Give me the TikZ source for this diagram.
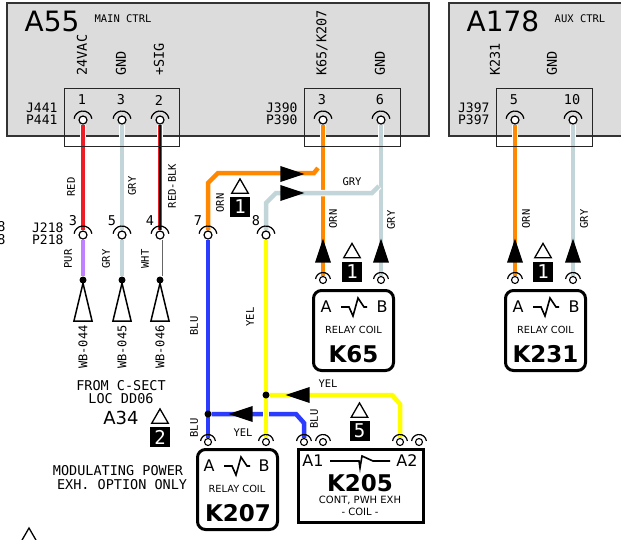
\documentclass[tikz,border=0pt]{standalone}
\usepackage{fontspec}
\usepackage{tikz}
\usetikzlibrary{arrows.meta, positioning, shapes.geometric, backgrounds}
\newfontfamily\monof{DejaVu Sans Mono}
\newfontfamily\sansf{DejaVu Sans}
\newcommand{\fsz}[1]{\fontsize{#1}{#1}\selectfont}

\definecolor{panelgray}{HTML}{DCDCDC}
\definecolor{wirered}{HTML}{EE1C25}
\definecolor{wireorn}{HTML}{FF8800}
\definecolor{wiregry}{HTML}{C2D5D9}
\definecolor{wireblu}{HTML}{2B3CFF}
\definecolor{wireyel}{HTML}{FFFF00}
\definecolor{wirepur}{HTML}{C080FF}

% warning triangle above a numbered black flag
\newcommand{\noteflag}[4]{
  \node[flagbox] (flag#1) at (#2,#3) {#4};
  \node[flagtri, above=3pt of flag#1] (tri#1) {};
}
% coil sign of a relay
\newcommand{\coilsign}[2]{
  \draw[coil] (#1-13,#2) -- (#1-5,#2) -- (#1-1,#2-9) -- (#1+4,#2+9) -- (#1+10,#2) -- (#1+13,#2);
}

\begin{document}
\begin{tikzpicture}[
    x=1pt, y=1pt, >=Latex,
    panel/.style={draw=black!80, line width=1.6pt, fill=panelgray, inner sep=0pt, anchor=north west},
    plug/.style={draw=black!85, line width=1.4pt, inner sep=0pt, anchor=north west},
    term/.style={circle, draw, line width=1.2pt, fill=white, inner sep=0pt, minimum size=8pt},
    termb/.style={circle, draw, line width=1.1pt, fill=white, inner sep=0pt, minimum size=7pt},
    tarc/.style={line width=1.2pt},
    wire/.style={draw=white, double=#1, double distance=4.5pt, line width=1pt},
    dot/.style={circle, fill=black, inner sep=0pt, minimum size=7pt},
    flowhead/.style={isosceles triangle, isosceles triangle apex angle=37, fill=black, inner sep=0pt, minimum height=24pt, anchor=apex},
    lug/.style={isosceles triangle, isosceles triangle apex angle=27, draw, line width=1.5pt, fill=white, inner sep=0pt, minimum height=38pt, anchor=apex, shape border rotate=90},
    flagbox/.style={fill=black, text=white, minimum size=20pt, inner sep=0pt, font=\monof\fsz{19}},
    flagtri/.style={regular polygon, regular polygon sides=3, draw, line width=1.3pt, inner sep=0pt, minimum size=19pt},
    relay/.style={draw, line width=3pt, rounded corners=8pt, fill=white, inner sep=0pt, anchor=north west, minimum width=80pt, minimum height=80pt},
    coil/.style={line width=1.6pt},
    big/.style={font=\sansf\fsz{28}},
    tag/.style={font=\monof\fsz{10.5}},
    sig/.style={font=\monof\fsz{13.5}, rotate=90, anchor=west},
    pnum/.style={font=\monof\fsz{13.5}},
    jack/.style={font=\monof\fsz{13}, align=right, anchor=east},
    wlab/.style={font=\monof\fsz{10.5}},
    wv/.style={wlab, rotate=90},
    lugtxt/.style={font=\monof\fsz{12}, rotate=90},
    note/.style={font=\monof\fsz{13.5}, align=center},
    pole/.style={font=\sansf\fsz{16}},
    coiltxt/.style={font=\sansf\fsz{9.8}},
    devname/.style={font=\sansf\bfseries\fsz{23}}
  ]
    \useasboundingbox (0,0) rectangle (621,-539);

    % controllers
    \begin{scope}[on background layer]
      \node[panel, minimum width=422pt, minimum height=133pt] (A55box) at (6,-2) {};
      \node[panel, minimum width=180pt, minimum height=133pt] (A178box) at (448,-2) {};
    \end{scope}
    \node[big] (A55) at (52,-21) {A55};
    \node[tag] (A55txt) at (123,-19) {MAIN CTRL};
    \node[big] (A178) at (503,-21) {A178};
    \node[tag] (A178txt) at (580,-19) {AUX CTRL};

    \node[sig] (s24) at (82,-79) {24VAC};
    \node[sig] (sgnd) at (121,-79) {GND};
    \node[sig] (ssig) at (159,-79) {+SIG};
    \node[sig] (sk65) at (322,-79) {K65/K207};
    \node[sig] (sgnd2) at (380,-79) {GND};
    \node[sig] (sk231) at (495,-79) {K231};
    \node[sig] (sgnd3) at (552,-79) {GND};

    \node[pnum] (n1) at (82,-100) {1};
    \node[pnum] (n3) at (121,-100) {3};
    \node[pnum] (n2) at (159,-100) {2};
    \node[pnum] (n3b) at (322,-100) {3};
    \node[pnum] (n6) at (380,-100) {6};
    \node[pnum] (n5) at (514,-100) {5};
    \node[pnum] (n10) at (572,-100) {10};

    \node[jack] (j441) at (61,-114) {J441\\[-1pt]P441};
    \node[jack] (j390) at (301,-114) {J390\\[-1pt]P390};
    \node[jack] (j397) at (493,-114) {J397\\[-1pt]P397};
    \node[jack] (j218) at (67,-234) {J218\\[-1pt]P218};
    \node[pnum] (n3c) at (73,-221) {3};
    \node[pnum] (n5c) at (112,-221) {5};
    \node[pnum] (n4c) at (150,-221) {4};
    \node[pnum] (n7) at (198,-221) {7};
    \node[pnum] (n8) at (256,-221) {8};
    \node[pnum] (cutA) at (1.5,-227) {8};
    \node[pnum] (cutB) at (1.5,-240) {8};

    % terminals
    \foreach \nm/\px/\py in {a1/83/120, a3/122/120, a2/160/120, b3/323/120, b6/381/120,
        c5/515/120, c10/573/120, d3/83/235, d5/122/235, d4/160/235, e7/208/235, e8/266/235} {
      \node[term] (\nm) at (\px,-\py) {};
      \draw[tarc] (\nm.center) ++(8:9) arc[start angle=8, end angle=172, radius=9];
    }
    \foreach \nm/\px/\py in {f1/323/280, f2/381/280, g1/515/280, g2/573/280,
        h1/208/442, h2/266/442, h3/304/442, h4/323/442, h5/400/442, h6/419/442} {
      \node[termb] (\nm) at (\px,-\py) {};
      \draw[tarc] (\nm.center) ++(8:7.5) arc[start angle=8, end angle=172, radius=7.5];
    }

    % lugs
    \foreach \nm/\px in {l1/83, l2/122, l3/160} {
      \node[lug] (\nm) at (\px,-280) {};
      \node[dot] (\nm dot) at (\px,-280) {};
    }
    \node[dot] (bludot) at (208,-414) {};
    \node[dot] (yeldot) at (266,-395) {};

    % wires
    \begin{scope}[on background layer]
      \draw[wire=wirered] (a1) -- (d3);
      \draw[wire=wiregry] (a3) -- (d5);
      \draw[wire=wirered] (a2) -- (d4);
      \draw[black, line width=2pt] (a2) -- (d4);
      \draw[wire=wirepur] (d3) -- (l1dot);
      \draw[wire=wiregry] (d5) -- (l2dot);
      \draw[draw=black!60, double=white, double distance=3.4pt, line width=0.8pt] (d4) -- (l3dot);

      \draw[wire=wireorn] (b3) -- (f1);
      \draw[wire=wireorn] (318,-168) -- (314,-173) -- (218,-173) -- (208,-183) -- (e7);
      \draw[wire=wiregry] (b6) -- (f2);
      \draw[wire=wiregry] (379,-186) -- (372,-193) -- (276,-193) -- (266,-203) -- (e8);
      \draw[wire=wireorn] (c5) -- (g1);
      \draw[wire=wiregry] (c10) -- (g2);

      \draw[wire=wireblu] (e7) -- (h1);
      \draw[wire=wireblu] (bludot) -- (296,-414) -- (304,-423) -- (h3);
      \draw[wire=wireyel] (e8) -- (h2);
      \draw[wire=wireyel] (yeldot) -- (392,-395) -- (400,-404) -- (h5);
    \end{scope}

    % connector bodies go over the wires
    \node[plug, minimum width=115pt, minimum height=58pt] (P441) at (64,-88) {};
    \node[plug, minimum width=96pt, minimum height=58pt] (P390) at (304,-88) {};
    \node[plug, minimum width=96pt, minimum height=58pt] (P397) at (496,-88) {};

    % flow arrows
    \node[flowhead, rotate=90] (up1) at (323,-238) {};
    \node[flowhead, rotate=90] (up2) at (381,-238) {};
    \node[flowhead, rotate=90] (up3) at (515,-238) {};
    \node[flowhead, rotate=90] (up4) at (573,-238) {};
    \node[flowhead] (rt1) at (305,-174) {};
    \node[flowhead] (rt2) at (305,-193) {};
    \node[flowhead, rotate=180] (lf1) at (228,-414) {};
    \node[flowhead, rotate=180] (lf2) at (285,-395) {};

    % wire labels
    \node[wv] (wred) at (71,-187) {RED};
    \node[wv] (wgry) at (132,-186) {GRY};
    \node[wv] (wrb) at (172,-186) {RED-BLK};
    \node[wv] (wpur) at (68,-259) {PUR};
    \node[wv] (wgry2) at (106,-259) {GRY};
    \node[wv] (wwht) at (145,-259) {WHT};
    \node[wv] (worn) at (220,-203) {ORN};
    \node[wv] (worn2) at (333,-219) {ORN};
    \node[wv] (wgry3) at (391,-220) {GRY};
    \node[wlab] (wgry4) at (352,-182) {GRY};
    \node[wv] (worn3) at (526,-219) {ORN};
    \node[wv] (wgry5) at (584,-219) {GRY};
    \node[wv] (wblu) at (194,-326) {BLU};
    \node[wv] (wyel) at (250,-317) {YEL};
    \node[wv] (wblu2) at (194,-428) {BLU};
    \node[wlab] (wyel2) at (243,-433) {YEL};
    \node[wlab] (wyel3) at (328,-384) {YEL};
    \node[wv] (wblu3) at (314,-419) {BLU};

    \node[lugtxt] (wb44) at (83,-347) {WB-044};
    \node[lugtxt] (wb45) at (122,-347) {WB-045};
    \node[lugtxt] (wb46) at (160,-347) {WB-046};

    % notes
    \node[note] (fromtxt) at (121,-392) {FROM C-SECT\\[0pt]LOC DD06};
    \node[font=\sansf\fsz{18}] (a34) at (121,-418) {A34};
    \node[note] (modtxt) at (118,-478) {MODULATING POWER\\[0.5pt]\ EXH. OPTION ONLY};
    \noteflag{a}{240}{-207}{1}
    \noteflag{b}{352}{-271.5}{1}
    \noteflag{c}{543}{-271.5}{1}
    \noteflag{d}{160}{-437}{2}
    \noteflag{e}{359.5}{-431}{5}
    \node[flagtri] (tricut) at (29,-537.5) {};

    % relays
    \node[relay] (K65box) at (312,-289) {};
    \node[pole] (K65a) at (326,-307) {A};
    \node[pole] (K65b) at (382,-307) {B};
    \coilsign{354}{-307}
    \node[coiltxt] (K65txt) at (353.5,-330) {RELAY COIL};
    \node[devname] (K65) at (353.5,-354) {K65};

    \node[relay] (K231box) at (504,-289) {};
    \node[pole] (K231a) at (518,-307) {A};
    \node[pole] (K231b) at (574,-307) {B};
    \coilsign{546}{-307}
    \node[coiltxt] (K231txt) at (545.5,-330) {RELAY COIL};
    \node[devname] (K231) at (545.5,-354) {K231};

    \node[relay] (K207box) at (196,-448) {};
    \node[pole] (K207a) at (209,-466) {A};
    \node[pole] (K207b) at (264,-466) {B};
    \coilsign{237}{-466}
    \node[coiltxt] (K207txt) at (237,-489) {RELAY COIL};
    \node[devname] (K207) at (238,-513) {K207};

    \node[relay, rounded corners=0pt, minimum width=125pt, minimum height=73pt] (K205box) at (297,-448) {};
    \node[pole] (K205a) at (313,-461) {A1};
    \node[pole] (K205b) at (407,-461) {A2};
    \draw[coil] (330,-461) -- (359,-461) -- (360,-468) -- (362,-456) -- (373,-461) -- (390,-461);
    \node[devname] (K205) at (360,-483) {K205};
    \node[font=\sansf\fsz{10}] (K205txt) at (360,-500) {CONT, PWH EXH};
    \node[font=\sansf\fsz{10}] (K205coil) at (360,-512) {- COIL -};
\end{tikzpicture}
\end{document}
